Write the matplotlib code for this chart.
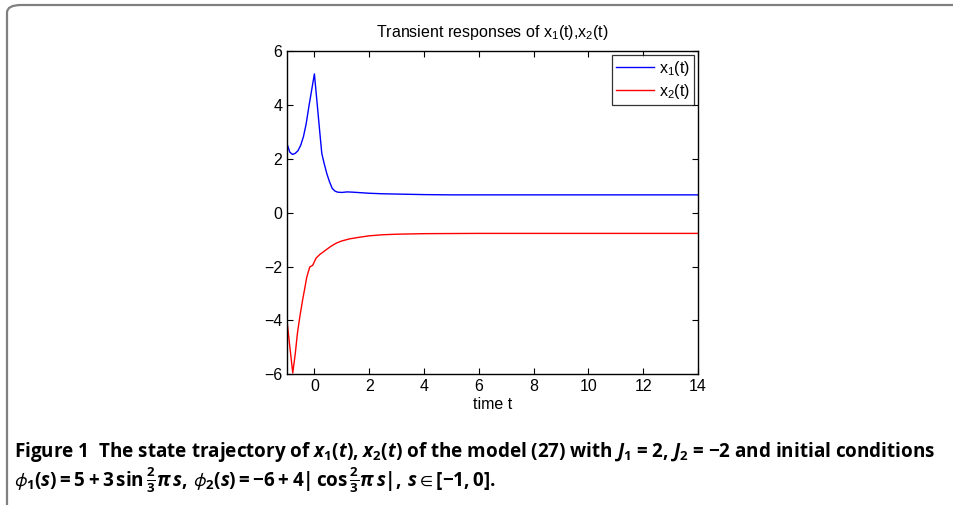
import matplotlib
matplotlib.use("Agg")
import matplotlib.pyplot as plt
from matplotlib.patches import FancyBboxPatch

# ---- data ----
t_x1 = [-1.0, -0.9, -0.8, -0.7, -0.6, -0.5, -0.4, -0.3, -0.2, -0.1, 0.0,
        0.1, 0.2, 0.27, 0.35, 0.45, 0.55, 0.65, 0.75, 0.85, 1.0, 1.2, 1.4,
        1.7, 2.0, 2.5, 3.0, 4.0, 5.0, 7.0, 10.0, 14.0]
x1 = [2.56, 2.25, 2.16, 2.2, 2.3, 2.5, 2.82, 3.3, 3.95, 4.55, 5.15,
      4.05, 2.95, 2.2, 1.85, 1.46, 1.15, 0.9, 0.8, 0.76, 0.75, 0.77, 0.76,
      0.74, 0.72, 0.70, 0.69, 0.67, 0.66, 0.66, 0.66, 0.66]

t_x2 = [-1.0, -0.9, -0.79, -0.7, -0.62, -0.53, -0.43, -0.35, -0.28, -0.17,
        -0.06, 0.06, 0.2, 0.4, 0.6, 0.8, 1.0, 1.3, 1.6, 2.0, 2.5, 3.0,
        4.0, 6.0, 10.0, 14.0]
x2 = [-4.0, -4.95, -5.95, -5.25, -4.48, -3.85, -3.24, -2.8, -2.4, -2.02,
      -1.95, -1.69, -1.55, -1.4, -1.25, -1.13, -1.05, -0.97, -0.92, -0.86,
      -0.82, -0.8, -0.78, -0.77, -0.77, -0.77]

xticks = [0, 2, 4, 6, 8, 10, 12, 14]
yticks = [-6, -4, -2, 0, 2, 4, 6]
ytick_labels = ["\u22126", "\u22124", "\u22122", "0", "2", "4", "6"]

plt.rcParams['font.family'] = ['Liberation Sans', 'DejaVu Sans']
plt.rcParams['mathtext.fontset'] = 'custom'
plt.rcParams['mathtext.rm'] = 'Open Sans:bold'
plt.rcParams['mathtext.it'] = 'Open Sans:bold:italic'
plt.rcParams['mathtext.bf'] = 'Open Sans:bold'
plt.rcParams['mathtext.fallback'] = 'stixsans'

fig = plt.figure(figsize=(9.54, 5.05), dpi=100)

# outer frame with rounded top-left corner
frame = FancyBboxPatch((7 / 954, -20 / 505), 980 / 954, (505 - 5 + 20) / 505,
                       boxstyle="round,pad=0,rounding_size=0.015",
                       transform=fig.transFigure, fill=False,
                       edgecolor='#808080', linewidth=1.6, clip_on=False)
fig.patches.append(frame)

FS = 11.5
ax = fig.add_axes([287 / 954, (505 - 374.3) / 505, (698 - 287) / 954, (374.3 - 51) / 505])
ax.plot(t_x1, x1, color='blue', lw=1.0, label=r'x$_\mathregular{1}$(t)')
ax.plot(t_x2, x2, color='red', lw=1.0, label=r'x$_\mathregular{2}$(t)')
ax.set_xlim(-1, 14)
ax.set_ylim(-6, 6)
ax.set_xticks(xticks)
ax.set_yticks(yticks)
ax.set_yticklabels(ytick_labels)
ax.tick_params(direction='in', top=True, right=True, labelsize=FS, length=4, width=0.8,
               pad=3.5)
for s in ax.spines.values():
    s.set_linewidth(1.0)
ax.set_xlabel('time t', fontsize=FS, labelpad=2)
ax.set_title(r'Transient responses of x$_\mathregular{1}$(t),x$_\mathregular{2}$(t)',
             fontsize=FS, pad=10)
leg = ax.legend(loc='upper right', fontsize=FS, frameon=True, fancybox=False,
                edgecolor='black', borderpad=0.25, labelspacing=0.25,
                handlelength=2.4, handletextpad=0.3, borderaxespad=0.25)
leg.get_frame().set_linewidth(0.9)

# caption
cap1 = (r"Figure 1  The state trajectory of $x_1(t)$, $x_2(t)$ of the model (27) with "
        r"$J_1$ = 2, $J_2$ = $-$2 and initial conditions")
cap2 = (r"$\phi_1(s) = 5 + 3\,\mathrm{sin}\,\frac{2}{3}\pi\, s,\, \phi_2(s) = -6 + 4|\,\mathrm{cos}\,"
        r"\frac{2}{3}\pi\, s|,\, s \in [-1, 0].$")
fig.text(14 / 954, 1 - 452 / 505, cap1, fontsize=13.6, family='Open Sans',
         weight='bold', va='center', ha='left')
fig.text(14 / 954, 1 - 480 / 505, cap2, fontsize=13.6, family='Open Sans',
         weight='bold', va='center', ha='left')

fig.savefig('out.png', dpi=100)
